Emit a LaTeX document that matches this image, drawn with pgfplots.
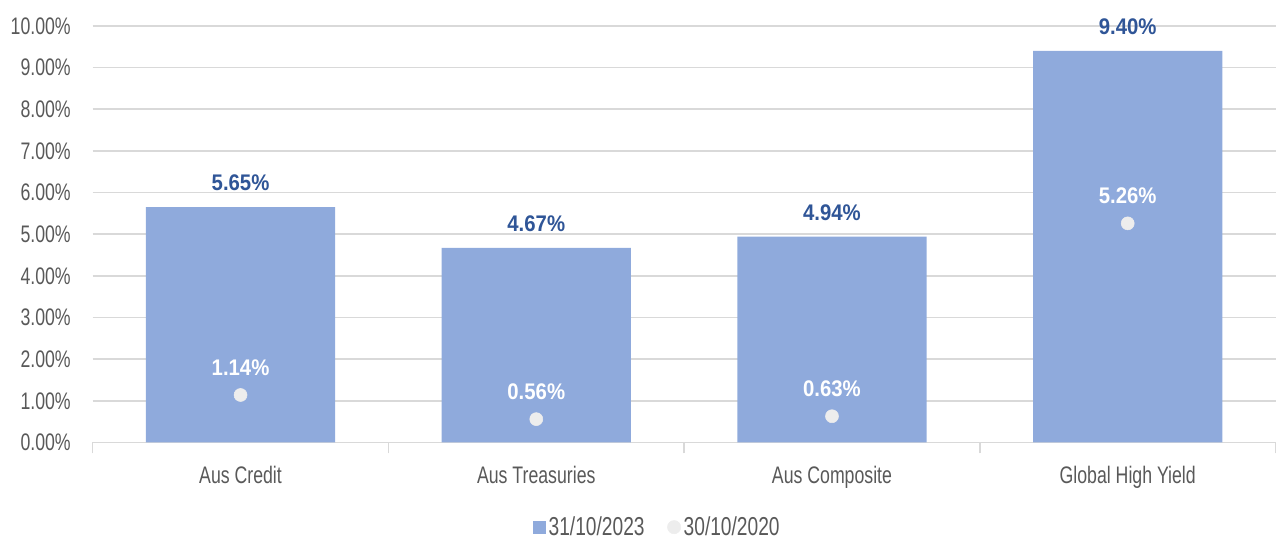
\documentclass[border=0pt]{standalone}
\usepackage{pgfplots}
\pgfplotsset{compat=1.18}
\usepackage{fontspec}
\setmainfont{Liberation Sans}[FakeStretch=0.74]
\newfontfamily\labfont{Liberation Sans}[FakeStretch=0.9]
\definecolor{barblue}{HTML}{8FAADC}
\definecolor{labblue}{HTML}{2F5597}
\definecolor{dotgray}{HTML}{EDEDED}
\definecolor{gridgray}{HTML}{D9D9D9}
\definecolor{txtgray}{HTML}{595959}
\begin{document}
\begin{tikzpicture}
\begin{axis}[
  scale only axis,
  width=890.25pt, height=313.5pt,
  xmin=-0.5, xmax=3.5, ymin=0, ymax=10,
  ytick={0,1,...,10},
  ymajorgrids,
  grid style={color=gridgray, line width=1.1pt},
  axis lines*=left,
  y axis line style={draw=none},
  x axis line style={draw=gridgray, line width=1.1pt},
  major tick length=0pt,
  xtick={0,1,2,3},
  xticklabels={Aus Credit, Aus Treasuries, Aus Composite, Global High Yield},
  extra x ticks={-0.5,0.5,1.5,2.5,3.5},
  extra x tick labels={},
  extra x tick style={major tick length=8.25pt, tick align=outside, tick style={draw=gridgray, line width=1.1pt}},
  /pgf/number format/assume math mode=true,
  yticklabel={\pgfmathprintnumber[fixed,fixed zerofill,precision=2]{\tick}\%},
  ticklabel style={font=\fontsize{18pt}{21pt}\selectfont, text=txtgray},
  yticklabel style={xshift=-13pt},
  xticklabel style={yshift=-14pt},
  legend style={at={(0.4775,-0.2033)}, anchor=center, draw=none, fill=none,
    font=\fontsize{19.5pt}{22pt}\selectfont, text=txtgray,
    legend columns=2, /tikz/every even column/.append style={column sep=15pt}},
  clip=false,
]
\addplot[ybar, bar width=142.5pt, fill=barblue, draw=none,
  nodes near coords={\pgfmathprintnumber[fixed,fixed zerofill,precision=2]{\pgfplotspointmeta}\%},
  every node near coord/.append style={anchor=base, yshift=12.5pt, text=labblue, font=\labfont\bfseries\fontsize{17pt}{20pt}\selectfont},
  legend image code/.code={\fill[barblue] (0pt,-5pt) rectangle (10pt,5pt);}]
  coordinates {(0,5.65) (1,4.67) (2,4.94) (3,9.40)};
\addlegendentry{31/10/2023}
\addplot[only marks, color=dotgray, mark=*, mark size=4.9pt, mark options={fill=dotgray, draw=dotgray},
  nodes near coords={\pgfmathprintnumber[fixed,fixed zerofill,precision=2]{\pgfplotspointmeta}\%},
  every node near coord/.append style={anchor=base, yshift=15pt, text=white, font=\labfont\bfseries\fontsize{17pt}{20pt}\selectfont},
  legend image code/.code={\fill[dotgray] (5pt,0pt) circle (5pt);}]
  coordinates {(0,1.14) (1,0.56) (2,0.63) (3,5.26)};
\addlegendentry{30/10/2020}
\end{axis}
\path (current axis.south west) ++(-69.75pt,-72.75pt) rectangle ++(960pt,405.75pt);
\end{tikzpicture}
\end{document}
